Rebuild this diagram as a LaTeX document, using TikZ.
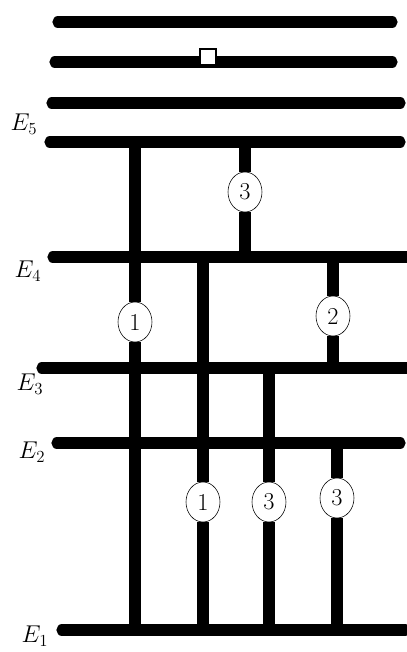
\documentclass[tikz,border=0pt]{standalone}
\usetikzlibrary{shapes.geometric}

\begin{document}
\begin{tikzpicture}[x=0.025cm,y=-0.025cm,
    lvl/.style={line width=8pt, line cap=round},
    jump/.style={line width=8pt},
    trans/.style={ellipse, draw, thin, fill=white, inner sep=0pt, minimum width=0.85cm, minimum height=1cm, font=\LARGE},
    lbl/.style={font=\LARGE}]
      \useasboundingbox (0,0) rectangle (407,652);

      % levels
      \draw[lvl] (58,22) -- (392,22);
      \draw[lvl] (55,62) -- (392,62);
      \draw[lvl] (52,103) -- (400,103);
      \draw[lvl] (50,142) coordinate (e5) -- (400,142);
      \draw[lvl] (53,257) coordinate (e4) -- (407,257);
      \draw[lvl] (42,368) coordinate (e3) -- (407,368);
      \draw[lvl] (57,443) coordinate (e2) -- (400,443);
      \draw[lvl] (62,630) coordinate (e1) -- (405,630);

      \node[draw, fill=white, line width=1.2pt, minimum size=0.4cm, inner sep=0pt] (hole) at (208,57) {};

      \node[lbl] (l5) at (24,124) {$E_5$};
      \node[lbl] (l4) at (28,271) {$E_4$};
      \node[lbl] (l3) at (30,384) {$E_3$};
      \node[lbl] (l2) at (32,452) {$E_2$};
      \node[lbl] (l1) at (35,636) {$E_1$};

      % transitions
      \node[trans] (ta) at (135,322) {1};
      \node[trans] (tb) at (203,502) {1};
      \node[trans] (tc) at (245,192) {3};
      \node[trans] (td) at (333,316) {2};
      \node[trans] (te) at (269,502) {3};
      \node[trans] (tf) at (337,498) {3};

      \draw[jump] (ta.north) -- (ta.north |- e5);
      \draw[jump] (ta.south) -- (ta.south |- e1);
      \draw[jump] (tb.north) -- (tb.north |- e4);
      \draw[jump] (tb.south) -- (tb.south |- e1);
      \draw[jump] (tc.north) -- (tc.north |- e5);
      \draw[jump] (tc.south) -- (tc.south |- e4);
      \draw[jump] (td.north) -- (td.north |- e4);
      \draw[jump] (td.south) -- (td.south |- e3);
      \draw[jump] (te.north) -- (te.north |- e3);
      \draw[jump] (te.south) -- (te.south |- e1);
      \draw[jump] (tf.north) -- (tf.north |- e2);
      \draw[jump] (tf.south) -- (tf.south |- e1);
\end{tikzpicture}
\end{document}
